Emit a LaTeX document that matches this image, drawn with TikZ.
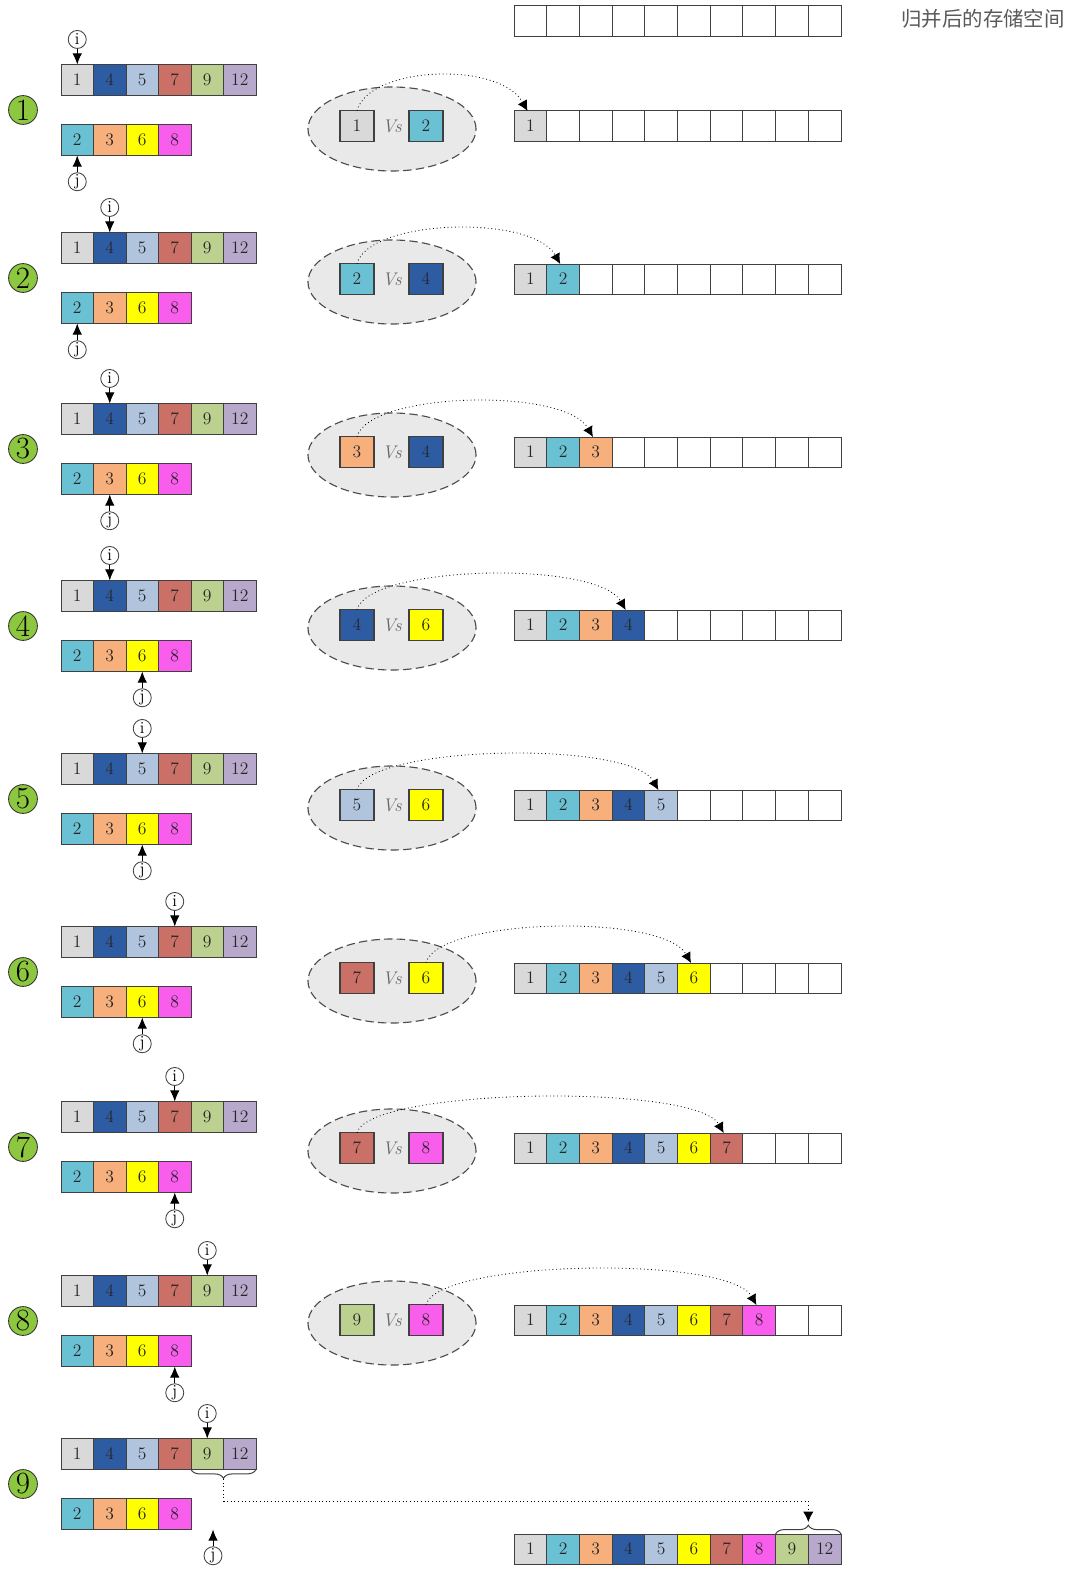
\documentclass[tikz,border=0pt]{standalone}
\usepackage{fontspec}
\usepackage{xcolor}
\usepackage{tikz}
\usetikzlibrary{arrows.meta,calc,positioning,shapes.geometric,decorations.pathreplacing}
\newfontfamily\cjk{Noto Sans CJK SC}
\definecolor{c1}{HTML}{D9D9D9}
\definecolor{c2}{HTML}{6AC1D4}
\definecolor{c3}{HTML}{F7B07C}
\definecolor{c4}{HTML}{2E5CA3}
\definecolor{c5}{HTML}{B1C4DE}
\definecolor{c6}{HTML}{FFFF00}
\definecolor{c7}{HTML}{CB7067}
\definecolor{c8}{HTML}{F95DEB}
\definecolor{c9}{HTML}{BCD08F}
\definecolor{c12}{HTML}{B8A8CB}
\definecolor{stepgreen}{HTML}{8DC63F}
\definecolor{poolfill}{HTML}{E9E9E9}
\definecolor{edge}{HTML}{404040}
\tikzset{
  cell/.style={
    draw=edge,
    line width=0.7pt,
    minimum width=0.8125cm,
    minimum height=0.775cm,
    inner sep=0pt,
    outer sep=0pt,
    font=\fontsize{12.5}{14}\selectfont,
    text=black!85
  },
  slot/.style={cell, minimum width=0.8175cm, minimum height=0.75cm},
  sq/.style={cell, line width=0.9pt, minimum width=0.85cm, minimum height=0.76cm},
  stepmark/.style={circle, draw=black!80, line width=0.6pt, fill=stepgreen, minimum size=0.72cm, inner sep=0pt, font=\fontsize{22}{22}\selectfont},
  ptr/.style={circle, draw=black!75, line width=0.6pt, fill=white, minimum size=0.45cm, inner sep=0pt, font=\fontsize{12}{12}\selectfont},
  ptrarrow/.style={line width=0.7pt, -{Latex[length=2.8mm,width=2.4mm]}},
  pool/.style={ellipse, draw=black!70, dash pattern=on 6pt off 3pt, line width=0.8pt, fill=poolfill, minimum width=4.2cm, minimum height=2.1cm},
  vs/.style={font=\fontsize{13}{14}\selectfont\itshape, text=black!60},
  pick/.style={dotted, line width=0.6pt, -{Latex[length=2.6mm,width=2.6mm]}},
  hook/.style={decorate, decoration={brace, amplitude=0.22cm}, line width=0.7pt, draw=black!75},
  caption/.style={font=\cjk\fontsize{14.5}{16}\selectfont, text=black!65}
}
% the two sorted runs and the step number
\newcommand{\sourcerows}[2]{%
  \foreach \v [count=\k] in {1,4,5,7,9,12}
    \node[cell, fill=c\v] (a#1-\k) at ({61+32.5*(\k-0.5)}, -#2) {\v};
  \foreach \v [count=\k] in {2,3,6,8}
    \node[cell, fill=c\v] (b#1-\k) at ({61+32.5*(\k-0.5)}, -#2-60) {\v};
  \node[stepmark] (s#1) at (23, -#2-30) {#1};
}
\newcommand{\pointers}[3]{%
  \node[ptr, above=0.39cm of a#1-#2] (i#1) {i};
  \draw[ptrarrow] (i#1) -- (a#1-#2);
  \node[ptr, below=0.42cm of b#1-#3] (j#1) {j};
  \draw[ptrarrow] (j#1) -- (b#1-#3);
}
% merged storage, first #3 cells filled
\newcommand{\resultrow}[3]{%
  \foreach \v [count=\k] in {1,2,3,4,5,6,7,8,9,12}{
    \ifnum\k>#3
      \node[slot] (#1-\k) at ({514+32.7*(\k-0.5)}, -#2) {};
    \else
      \node[slot, fill=c\v] (#1-\k) at ({514+32.7*(\k-0.5)}, -#2) {\v};
    \fi
  }
}
\newcommand{\versus}[4]{%
  \node[pool] (e#1) at (392, -#2-3) {};
  \node[sq, fill=c#3] (l#1) at (357, -#2) {#3};
  \node[vs] (v#1) at (392, -#2) {Vs};
  \node[sq, fill=c#4] (r#1) at (426, -#2) {#4};
}

\begin{document}
\begin{tikzpicture}[x=0.025cm,y=0.025cm]
\path[use as bounding box] (0,0) rectangle (1080,-1588);
\fill[white] (0,0) rectangle (1080,-1588);

\resultrow{h}{21}{0}
\node[caption] (title) at (983,-19) {归并后的存储空间};

\sourcerows{1}{80}
\pointers{1}{1}{1}
\versus{1}{126}{1}{2}
\resultrow{m1}{126}{1}
\draw[pick] (l1.north) .. controls +(12,45) and +(-28,50) .. ([xshift=-2]m1-1.north);

\sourcerows{2}{248}
\pointers{2}{2}{1}
\versus{2}{279}{2}{4}
\resultrow{m2}{279}{2}
\draw[pick] (l2.north) .. controls +(12,45) and +(-28,50) .. ([xshift=-2]m2-2.north);

\sourcerows{3}{419}
\pointers{3}{2}{2}
\versus{3}{452}{3}{4}
\resultrow{m3}{452}{3}
\draw[pick] (l3.north) .. controls +(12,45) and +(-28,50) .. ([xshift=-2]m3-3.north);

\sourcerows{4}{596}
\pointers{4}{2}{3}
\versus{4}{625}{4}{6}
\resultrow{m4}{625}{4}
\draw[pick] (l4.north) .. controls +(12,45) and +(-28,50) .. ([xshift=-2]m4-4.north);

\sourcerows{5}{769}
\pointers{5}{3}{3}
\versus{5}{805}{5}{6}
\resultrow{m5}{805}{5}
\draw[pick] (l5.north) .. controls +(12,45) and +(-28,50) .. ([xshift=-2]m5-5.north);

\sourcerows{6}{942}
\pointers{6}{4}{3}
\versus{6}{978}{7}{6}
\resultrow{m6}{978}{6}
\draw[pick] (r6.north) .. controls +(12,45) and +(-28,50) .. ([xshift=-2]m6-6.north);

\sourcerows{7}{1117}
\pointers{7}{4}{4}
\versus{7}{1148}{7}{8}
\resultrow{m7}{1148}{7}
\draw[pick] (l7.north) .. controls +(12,45) and +(-28,50) .. ([xshift=-2]m7-7.north);

\sourcerows{8}{1291}
\pointers{8}{5}{4}
\versus{8}{1320}{9}{8}
\resultrow{m8}{1320}{8}
\draw[pick] (r8.north) .. controls +(12,45) and +(-28,50) .. ([xshift=-2]m8-8.north);

% last step: the rest of the first run is copied over
\sourcerows{9}{1454}
\node[ptr, above=0.39cm of a9-5] (i9) {i};
\draw[ptrarrow] (i9) -- (a9-5);
\coordinate (jend) at ([xshift=0.55cm]b9-4.south east);
\node[ptr, below=0.42cm of jend] (j9) {j};
\draw[ptrarrow] (j9) -- (jend);
\resultrow{m9}{1549}{10}
\draw[hook] (a9-6.south east) -- (a9-5.south west);
\draw[hook] (m9-9.north west) -- (m9-10.north east);
\coordinate (k9) at ([yshift=-0.24cm]a9-5.south east);
\coordinate (g9) at ([yshift=0.3cm]m9-9.north east);
\draw[pick] (k9) -- ++(0,-22) -| (g9);

\end{tikzpicture}
\end{document}
